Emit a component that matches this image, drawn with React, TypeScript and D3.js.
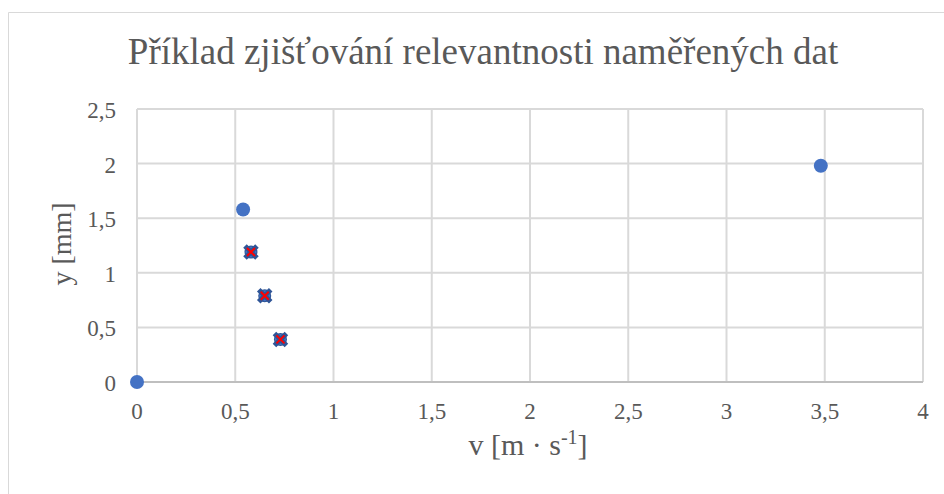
import React from "react";
import * as d3 from "d3";

const xValues = [0, 0.54, 0.58, 0.65, 0.73, 3.48];
const yValues = [0, 1.58, 1.19, 0.79, 0.39, 1.98];
const flagged = [false, false, true, true, true, false];
const xTicks = [0, 0.5, 1, 1.5, 2, 2.5, 3, 3.5, 4];
const yTicks = [0, 0.5, 1, 1.5, 2, 2.5];
const titleText = "Příklad zjišťování relevantnosti naměřených dat";

const fmt = (v: number) => String(v).replace(".", ",");

export default function App() {
  const W = 944, H = 494;
  const x = d3.scaleLinear().domain([0, 4]).range([137, 923]);
  const y = d3.scaleLinear().domain([0, 2.5]).range([382, 109]);
  const font = "Liberation Serif";
  const grey = "#595959";
  return (
    <svg width={W} height={H} style={{ position: "absolute", left: 0, top: 0 }}>
      <rect x={0} y={0} width={W} height={H} fill="#fff" />
      <path d={`M8.5,${H} V12.5 H${W}`} fill="none" stroke="#d9d9d9" strokeWidth={1} />
      <text x={483} y={64} textAnchor="middle" fontFamily={font} fontSize={37} fill={grey}>{titleText}</text>
      {xTicks.map((t) => (
        <line key={"gx" + t} x1={x(t)} x2={x(t)} y1={y(2.5)} y2={y(0)} stroke="#d9d9d9" strokeWidth={2} />
      ))}
      {yTicks.map((t) => (
        <line key={"gy" + t} x1={x(0)} x2={x(4)} y1={y(t)} y2={y(t)} stroke={t === 0 ? "#bfbfbf" : "#d9d9d9"} strokeWidth={2} />
      ))}
      {xTicks.map((t) => (
        <text key={"tx" + t} x={x(t)} y={419} textAnchor="middle" fontFamily={font} fontSize={23} fill={grey}>{fmt(t)}</text>
      ))}
      {yTicks.map((t) => (
        <text key={"ty" + t} x={116} y={y(t) + 9} textAnchor="end" fontFamily={font} fontSize={23} fill={grey}>{fmt(t)}</text>
      ))}
      <text x={528} y={455} textAnchor="middle" fontFamily={font} fontSize={30} fill={grey}>
        v [m · s<tspan dy={-11} fontSize={20}>-1</tspan><tspan dy={11}>]</tspan>
      </text>
      <text transform={`translate(71,244) rotate(-90)`} textAnchor="middle" fontFamily={font} fontSize={28} fill={grey}>y [mm]</text>
      {xValues.map((v, i) => {
        const cx = x(v), cy = y(yValues[i]);
        if (!flagged[i]) {
          return <circle key={i} cx={cx} cy={cy} r={7} fill="#4472C4" />;
        }
        return (
          <g key={i}>
            <circle cx={cx} cy={cy} r={6.5} fill="#2F5597" />
            <circle cx={cx} cy={cy} r={5.5} fill="#4472C4" />
            <path d={`M${cx - 6},${cy - 6}L${cx + 6},${cy + 6}M${cx + 6},${cy - 6}L${cx - 6},${cy + 6}`} stroke="#2F5597" strokeWidth={5} />
            <path d={`M${cx - 4},${cy - 4}L${cx + 4},${cy + 4}M${cx + 4},${cy - 4}L${cx - 4},${cy + 4}`} stroke="#FF0000" strokeWidth={2} />
          </g>
        );
      })}
    </svg>
  );
}
